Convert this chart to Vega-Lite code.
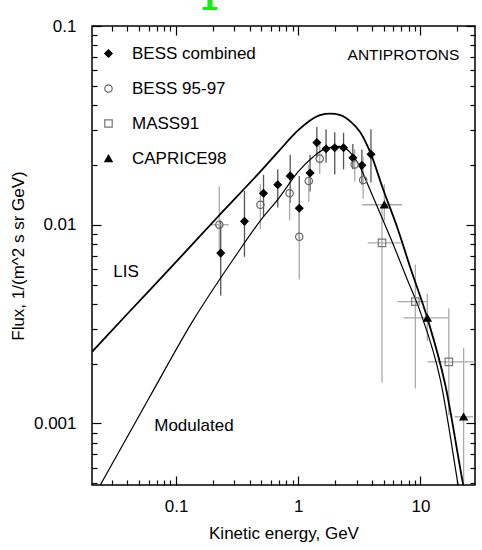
{
  "$schema": "https://vega.github.io/schema/vega-lite/v6.json",
  "width": 383,
  "height": 459,
  "autosize": "none",
  "padding": {"left": 92, "top": 26, "right": 7, "bottom": 65},
  "background": "white",
  "config": {
    "font": "Liberation Sans",
    "view": {"stroke": "black", "strokeWidth": 1.5},
    "axis": {"grid": false, "domain": false, "labelColor": "black", "titleColor": "black", "tickColor": "black", "tickWidth": 1.2, "labelFontWeight": "normal", "titleFontWeight": "normal", "labelFontSize": 17, "titleFontSize": 17}
  },
  "datasets": {
    "curves": [
      {"curve": "LIS", "E": 0.0205, "F": 0.00229},
      {"curve": "LIS", "E": 0.042, "F": 0.00368},
      {"curve": "LIS", "E": 0.1, "F": 0.0065},
      {"curve": "LIS", "E": 0.221, "F": 0.011},
      {"curve": "LIS", "E": 0.489, "F": 0.0185},
      {"curve": "LIS", "E": 0.711, "F": 0.0239},
      {"curve": "LIS", "E": 1.0, "F": 0.0299},
      {"curve": "LIS", "E": 1.25, "F": 0.0335},
      {"curve": "LIS", "E": 1.51, "F": 0.0356},
      {"curve": "LIS", "E": 1.83, "F": 0.0362},
      {"curve": "LIS", "E": 2.21, "F": 0.0356},
      {"curve": "LIS", "E": 2.67, "F": 0.0331},
      {"curve": "LIS", "E": 3.22, "F": 0.0292},
      {"curve": "LIS", "E": 3.89, "F": 0.0231},
      {"curve": "LIS", "E": 4.97, "F": 0.015},
      {"curve": "LIS", "E": 6.48, "F": 0.00966},
      {"curve": "LIS", "E": 8.28, "F": 0.00607},
      {"curve": "LIS", "E": 11.4, "F": 0.00339},
      {"curve": "LIS", "E": 16.0, "F": 0.00156},
      {"curve": "LIS", "E": 22.5, "F": 0.000486},
      {"curve": "LIS", "E": 25.7, "F": 0.00032},
      {"curve": "Modulated", "E": 0.0205, "F": 0.000413},
      {"curve": "Modulated", "E": 0.0238, "F": 0.000486},
      {"curve": "Modulated", "E": 0.0612, "F": 0.00137},
      {"curve": "Modulated", "E": 0.138, "F": 0.0033},
      {"curve": "Modulated", "E": 0.299, "F": 0.0068},
      {"curve": "Modulated", "E": 0.497, "F": 0.0106},
      {"curve": "Modulated", "E": 0.7, "F": 0.0137},
      {"curve": "Modulated", "E": 1.0, "F": 0.0185},
      {"curve": "Modulated", "E": 1.33, "F": 0.022},
      {"curve": "Modulated", "E": 1.69, "F": 0.0242},
      {"curve": "Modulated", "E": 2.19, "F": 0.0248},
      {"curve": "Modulated", "E": 2.8, "F": 0.0223},
      {"curve": "Modulated", "E": 3.22, "F": 0.0194},
      {"curve": "Modulated", "E": 3.8, "F": 0.0154},
      {"curve": "Modulated", "E": 4.8, "F": 0.011},
      {"curve": "Modulated", "E": 5.78, "F": 0.0084},
      {"curve": "Modulated", "E": 7.66, "F": 0.00546},
      {"curve": "Modulated", "E": 10.0, "F": 0.00363},
      {"curve": "Modulated", "E": 14.6, "F": 0.00165},
      {"curve": "Modulated", "E": 20.4, "F": 0.000486},
      {"curve": "Modulated", "E": 23.2, "F": 0.0003}
    ],
    "points": [
      {"series": "BESS combined", "E": 0.232, "F": 0.0072, "lo": 0.0044, "hi": 0.0105},
      {"series": "BESS combined", "E": 0.363, "F": 0.0104, "lo": 0.0069, "hi": 0.0148},
      {"series": "BESS combined", "E": 0.52, "F": 0.0144, "lo": 0.011, "hi": 0.0178},
      {"series": "BESS combined", "E": 0.68, "F": 0.0159, "lo": 0.0122, "hi": 0.019},
      {"series": "BESS combined", "E": 0.86, "F": 0.0176, "lo": 0.0129, "hi": 0.0225},
      {"series": "BESS combined", "E": 1.02, "F": 0.0121, "lo": 0.0085, "hi": 0.0176},
      {"series": "BESS combined", "E": 1.25, "F": 0.0182, "lo": 0.0147, "hi": 0.0225},
      {"series": "BESS combined", "E": 1.42, "F": 0.0259, "lo": 0.0218, "hi": 0.031},
      {"series": "BESS combined", "E": 1.69, "F": 0.0241, "lo": 0.0205, "hi": 0.0302},
      {"series": "BESS combined", "E": 1.99, "F": 0.0244, "lo": 0.0179, "hi": 0.0292},
      {"series": "BESS combined", "E": 2.35, "F": 0.0244, "lo": 0.019, "hi": 0.029},
      {"series": "BESS combined", "E": 2.8, "F": 0.0217, "lo": 0.019, "hi": 0.0255},
      {"series": "BESS combined", "E": 3.32, "F": 0.0199, "lo": 0.0159, "hi": 0.0239},
      {"series": "BESS combined", "E": 3.94, "F": 0.0226, "lo": 0.0163, "hi": 0.0302},
      {"series": "BESS 95-97", "E": 0.226, "F": 0.01, "lo": 0.0069, "hi": 0.0156, "Elo": 0.19, "Ehi": 0.27},
      {"series": "BESS 95-97", "E": 0.49, "F": 0.0126, "lo": 0.0095, "hi": 0.016},
      {"series": "BESS 95-97", "E": 0.85, "F": 0.0144, "lo": 0.0105, "hi": 0.019},
      {"series": "BESS 95-97", "E": 1.02, "F": 0.0087, "lo": 0.0053, "hi": 0.012},
      {"series": "BESS 95-97", "E": 1.22, "F": 0.0166, "lo": 0.013, "hi": 0.02},
      {"series": "BESS 95-97", "E": 1.5, "F": 0.0215, "lo": 0.018, "hi": 0.026},
      {"series": "BESS 95-97", "E": 2.9, "F": 0.0201, "lo": 0.0165, "hi": 0.024},
      {"series": "BESS 95-97", "E": 3.4, "F": 0.0168, "lo": 0.0135, "hi": 0.022},
      {"series": "MASS91", "E": 4.85, "F": 0.0081, "lo": 0.0016, "hi": 0.0126, "Elo": 3.7, "Ehi": 6.9},
      {"series": "MASS91", "E": 9.1, "F": 0.0041, "lo": 0.0015, "hi": 0.0063, "Elo": 6.5, "Ehi": 11.4},
      {"series": "MASS91", "E": 17.1, "F": 0.00204, "lo": 0.0011, "hi": 0.0038, "Elo": 11.4, "Ehi": 28},
      {"series": "CAPRICE98", "E": 5.07, "F": 0.0126, "lo": 0.0105, "hi": 0.016, "Elo": 3.33, "Ehi": 7.08},
      {"series": "CAPRICE98", "E": 11.4, "F": 0.0034, "lo": 0.0026, "hi": 0.0045, "Elo": 7.25, "Ehi": 16.9},
      {"series": "CAPRICE98", "E": 22.6, "F": 0.00108, "lo": 0.0003, "hi": 0.0024, "Elo": 19, "Ehi": 27}
    ]
  },
  "layer": [
    {
      "data": {"name": "points"},
      "transform": [{"filter": "isValid(datum.lo)"}],
      "mark": {"type": "rule", "strokeWidth": 1.3, "clip": true},
      "encoding": {
        "x": {"field": "E", "type": "quantitative", "scale": {"type": "log", "domain": [0.0205, 28], "nice": false}, "axis": {"orient": "top", "values": [0.1, 1, 10], "labels": false, "tickSize": -9, "title": null}},
        "y": {"field": "lo", "type": "quantitative", "scale": {"type": "log", "domain": [0.00049, 0.1], "nice": false}, "axis": {"orient": "right", "values": [0.001, 0.01, 0.1], "labels": false, "tickSize": -9, "title": null}},
        "y2": {"field": "hi"},
        "color": {"condition": {"test": "datum.series === 'BESS combined'", "value": "#555555"}, "value": "#aaaaaa"}
      }
    },
    {
      "data": {"name": "points"},
      "transform": [{"filter": "isValid(datum.Elo)"}],
      "mark": {"type": "rule", "strokeWidth": 1.3, "clip": true, "color": "#aaaaaa"},
      "encoding": {
        "x": {"field": "Elo", "type": "quantitative", "scale": {"type": "log", "domain": [0.0205, 28], "nice": false}, "axis": {"orient": "top", "values": [0.03, 0.04, 0.05, 0.06, 0.07, 0.08, 0.09, 0.2, 0.3, 0.4, 0.5, 0.6, 0.7, 0.8, 0.9, 2, 3, 4, 5, 6, 7, 8, 9, 20], "labels": false, "tickSize": -5, "title": null}},
        "x2": {"field": "Ehi"},
        "y": {"field": "F", "type": "quantitative", "scale": {"type": "log", "domain": [0.00049, 0.1], "nice": false}, "axis": {"orient": "right", "values": [0.0005, 0.0006, 0.0007, 0.0008, 0.0009, 0.002, 0.003, 0.004, 0.005, 0.006, 0.007, 0.008, 0.009, 0.02, 0.03, 0.04, 0.05, 0.06, 0.07, 0.08, 0.09], "labels": false, "tickSize": -5, "title": null}}
      }
    },
    {
      "data": {"name": "curves"},
      "transform": [{"filter": "datum.curve === 'LIS'"}],
      "mark": {"type": "line", "color": "black", "strokeWidth": 1.8, "clip": true, "interpolate": "monotone"},
      "encoding": {
        "x": {"field": "E", "type": "quantitative", "scale": {"type": "log", "domain": [0.0205, 28], "nice": false}, "axis": {"orient": "bottom", "values": [0.1, 1, 10], "ticks": false, "format": "~g", "labelPadding": 13, "title": "Kinetic energy, GeV", "titlePadding": 11}},
        "y": {"field": "F", "type": "quantitative", "scale": {"type": "log", "domain": [0.00049, 0.1], "nice": false}, "axis": {"orient": "left", "values": [0.001, 0.01, 0.1], "ticks": false, "format": "~g", "labelPadding": 16, "title": "Flux, 1/(m^2 s sr GeV)", "titlePadding": 6}}
      }
    },
    {
      "data": {"name": "curves"},
      "transform": [{"filter": "datum.curve === 'Modulated'"}],
      "mark": {"type": "line", "color": "black", "strokeWidth": 1.2, "clip": true, "interpolate": "monotone"},
      "encoding": {
        "x": {"field": "E", "type": "quantitative", "scale": {"type": "log", "domain": [0.0205, 28], "nice": false}, "axis": {"orient": "bottom", "values": [0.1, 1, 10], "labels": false, "tickSize": -9, "title": null}},
        "y": {"field": "F", "type": "quantitative", "scale": {"type": "log", "domain": [0.00049, 0.1], "nice": false}, "axis": {"orient": "left", "values": [0.001, 0.01, 0.1], "labels": false, "tickSize": -9, "title": null}}
      }
    },
    {
      "data": {"name": "points"},
      "mark": {"type": "point", "size": 55, "strokeWidth": 1.2, "opacity": 1, "clip": true},
      "encoding": {
        "x": {"field": "E", "type": "quantitative", "scale": {"type": "log", "domain": [0.0205, 28], "nice": false}, "axis": {"orient": "bottom", "values": [0.03, 0.04, 0.05, 0.06, 0.07, 0.08, 0.09, 0.2, 0.3, 0.4, 0.5, 0.6, 0.7, 0.8, 0.9, 2, 3, 4, 5, 6, 7, 8, 9, 20], "labels": false, "tickSize": -5, "title": null}},
        "y": {"field": "F", "type": "quantitative", "scale": {"type": "log", "domain": [0.00049, 0.1], "nice": false}, "axis": {"orient": "left", "values": [0.0005, 0.0006, 0.0007, 0.0008, 0.0009, 0.002, 0.003, 0.004, 0.005, 0.006, 0.007, 0.008, 0.009, 0.02, 0.03, 0.04, 0.05, 0.06, 0.07, 0.08, 0.09], "labels": false, "tickSize": -5, "title": null}},
        "shape": {"field": "series", "type": "nominal", "title": null, "scale": {"domain": ["BESS combined", "BESS 95-97", "MASS91", "CAPRICE98"], "range": ["diamond", "circle", "square", "triangle-up"]}, "legend": {"orient": "none", "legendX": 8, "legendY": 19, "padding": 0, "labelFontSize": 17, "labelOffset": 15, "rowPadding": 17, "symbolSize": 55, "symbolStrokeWidth": 1.2}},
        "fill": {"field": "series", "type": "nominal", "title": null, "scale": {"domain": ["BESS combined", "BESS 95-97", "MASS91", "CAPRICE98"], "range": ["black", "transparent", "transparent", "black"]}, "legend": {"orient": "none", "legendX": 8, "legendY": 19, "padding": 0, "labelFontSize": 17, "labelOffset": 15, "rowPadding": 17, "symbolSize": 55, "symbolStrokeWidth": 1.2}},
        "stroke": {"field": "series", "type": "nominal", "title": null, "scale": {"domain": ["BESS combined", "BESS 95-97", "MASS91", "CAPRICE98"], "range": ["black", "#666666", "#777777", "black"]}, "legend": {"orient": "none", "legendX": 8, "legendY": 19, "padding": 0, "labelFontSize": 17, "labelOffset": 15, "rowPadding": 17, "symbolSize": 55, "symbolStrokeWidth": 1.2}}
      }
    },
    {
      "data": {"values": [{"label": "ANTIPROTONS"}]},
      "mark": {"type": "text", "fontSize": 15.5, "align": "center", "baseline": "middle", "color": "black"},
      "encoding": {
        "x": {"datum": 7.26, "type": "quantitative", "axis": null},
        "y": {"datum": 0.0714, "type": "quantitative", "axis": null},
        "text": {"field": "label"}
      }
    },
    {
      "data": {"values": [{"label": "LIS"}]},
      "mark": {"type": "text", "fontSize": 17, "align": "center", "baseline": "middle", "color": "black"},
      "encoding": {
        "x": {"datum": 0.039, "type": "quantitative", "axis": null},
        "y": {"datum": 0.0058, "type": "quantitative", "axis": null},
        "text": {"field": "label"}
      }
    },
    {
      "data": {"values": [{"label": "Modulated"}]},
      "mark": {"type": "text", "fontSize": 17, "align": "center", "baseline": "middle", "color": "black"},
      "encoding": {
        "x": {"datum": 0.14, "type": "quantitative", "axis": null},
        "y": {"datum": 0.00097, "type": "quantitative", "axis": null},
        "text": {"field": "label"}
      }
    },
    {
      "data": {"values": [{"label": "p"}]},
      "mark": {"type": "text", "font": "DejaVu Serif", "fontSize": 56, "align": "left", "baseline": "alphabetic", "color": "#11ee11", "clip": false},
      "encoding": {
        "x": {"datum": 0.16, "type": "quantitative", "axis": null},
        "y": {"datum": 0.1385, "type": "quantitative", "axis": null},
        "text": {"field": "label"}
      }
    }
  ],
  "resolve": {"axis": {"x": "independent", "y": "independent"}}
}
